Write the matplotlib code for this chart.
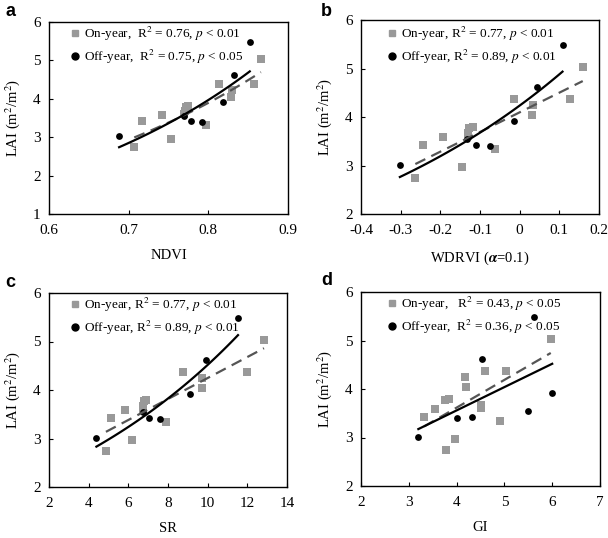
import numpy as np
import matplotlib
matplotlib.use("Agg")
import matplotlib.pyplot as plt
from matplotlib.lines import Line2D

plt.rcParams['font.family'] = ['Liberation Serif', 'DejaVu Serif']
plt.rcParams['mathtext.fontset'] = 'stix'

# ---------------- data ----------------
lai_on = [2.75, 2.96, 3.33, 3.42, 3.58, 3.60, 3.68, 3.78, 3.80, 4.04, 4.24, 4.38, 4.38, 5.04]
lai_off = [3.02, 3.55, 3.42, 3.40, 3.91, 4.61, 5.49]

ndvi_on = [0.707, 0.753, 0.797, 0.717, 0.742, 0.770, 0.771, 0.772, 0.774, 0.829, 0.830, 0.814, 0.857, 0.866]
ndvi_off = [0.688, 0.770, 0.778, 0.792, 0.819, 0.832, 0.852]

wdrvi_on = [-0.263, -0.145, -0.061, -0.244, -0.193, -0.131, -0.130, -0.128, -0.117, 0.031, 0.033, -0.014, 0.126, 0.159]
wdrvi_off = [-0.302, -0.132, -0.111, -0.076, -0.014, 0.043, 0.108]

sr_on = [4.87, 6.17, 7.90, 5.12, 5.83, 6.72, 6.76, 6.80, 6.87, 9.72, 9.72, 8.76, 11.97, 12.84]
sr_off = [4.39, 6.72, 7.04, 7.62, 9.12, 9.93, 11.53]

gi_on = [3.78, 3.97, 4.90, 3.32, 3.55, 4.52, 4.52, 3.75, 3.85, 4.19, 4.18, 4.59, 5.03, 5.97]
gi_off = [3.20, 5.50, 4.33, 4.00, 6.00, 4.53, 5.62]

panel_letters = ['a', 'b', 'c', 'd']
x_labels = ['NDVI', r'WDRVI ($\boldsymbol{\alpha}$=0.1)', 'SR', 'GI']
y_label = r'LAI (m$^2$/m$^2$)'
on_labels = [r'On-year,  R$^2$ = 0.76, $p$ < 0.01',
             r'On-year, R$^2$ = 0.77, $p$ < 0.01',
             r'On-year, R$^2$ = 0.77, $p$ < 0.01',
             r'On-year,   R$^2$ = 0.43, $p$ < 0.05']
off_labels = [r'Off-year,  R$^2$ = 0.75, $p$ < 0.05',
              r'Off-year, R$^2$ = 0.89, $p$ < 0.01',
              r'Off-year, R$^2$ = 0.89, $p$ < 0.01',
              r'Off-year,  R$^2$ = 0.36, $p$ < 0.05']
fit_on = ['exp', 'lin', 'lin', 'lin']
fit_off = ['exp', 'exp', 'exp', 'lin']
x_lims = [(0.6, 0.9), (-0.4, 0.2), (2, 14), (2, 7)]
x_ticks = [[0.6, 0.7, 0.8, 0.9], [-0.4, -0.3, -0.2, -0.1, 0, 0.1, 0.2],
           [2, 4, 6, 8, 10, 12, 14], [2, 3, 4, 5, 6, 7]]
x_ticklabels = [['0.6', '0.7', '0.8', '0.9'], ['-0.4', '-0.3', '-0.2', '-0.1', '0', '0.1', '0.2'],
                ['2', '4', '6', '8', '10', '12', '14'], ['2', '3', '4', '5', '6', '7']]
y_lims = [(1, 6), (2, 6), (2, 6), (2, 6)]

xs_on = [ndvi_on, wdrvi_on, sr_on, gi_on]
xs_off = [ndvi_off, wdrvi_off, sr_off, gi_off]

# ---------------- layout ----------------
W, H = 608, 538
fig = plt.figure(figsize=(W / 100, H / 100), dpi=100)
boxes = [(49, 288, 22, 214), (361, 599, 20, 214), (49, 287, 293, 487), (361, 600, 292, 486)]
legend_anchor = [(76, 33), (393, 33), (76, 304), (393, 303)]
letter_pos = [(5, 3), (321, 3), (5, 274), (321, 272)]

GRAY = '#999999'
DASH = '#555555'


def fit_line(x, y, kind):
    x = np.asarray(x, float)
    y = np.asarray(y, float)
    xx = np.linspace(x.min(), x.max(), 100)
    if kind == 'exp':
        b, a = np.polyfit(x, np.log(y), 1)
        return xx, np.exp(a + b * xx)
    b, a = np.polyfit(x, y, 1)
    return xx, a + b * xx


for i in range(4):
    l, r, t, b = boxes[i]
    ax = fig.add_axes([l / W, 1 - b / H, (r - l) / W, (b - t) / H])
    ax.scatter(xs_on[i], lai_on, marker='s', s=26, color=GRAY, linewidths=0, zorder=3)
    ax.scatter(xs_off[i], lai_off, marker='o', s=24, color='black', linewidths=0, zorder=4)
    fx, fy = fit_line(xs_on[i], lai_on, fit_on[i])
    ax.plot(fx, fy, color=DASH, lw=1.6, dashes=(5, 3), zorder=5)
    fx, fy = fit_line(xs_off[i], lai_off, fit_off[i])
    ax.plot(fx, fy, color='black', lw=1.6, zorder=6)

    ax.set_xlim(*x_lims[i])
    ax.set_ylim(*y_lims[i])
    ax.set_xticks(x_ticks[i])
    ax.set_xticklabels(x_ticklabels[i])
    ax.set_yticks(np.arange(y_lims[i][0], y_lims[i][1] + 1))
    ax.tick_params(direction='in', length=3, width=0.8, labelsize=11)
    ax.tick_params(axis='x', pad=7)
    ax.tick_params(axis='y', pad=6)
    for s in ax.spines.values():
        s.set_linewidth(1.0)
    ax.set_xlabel(x_labels[i], fontsize=10.5, labelpad=9)
    ax.set_ylabel(y_label, fontsize=10.5, labelpad=8)

    handles = [Line2D([], [], ls='none', marker='s', ms=5, mfc=GRAY, mec=GRAY),
               Line2D([], [], ls='none', marker='o', ms=5, mfc='black', mec='black')]
    lx, ly = legend_anchor[i]
    ax.legend(handles, [on_labels[i], off_labels[i]], loc='upper left',
              bbox_to_anchor=((lx - 5 - l) / (r - l), 1 - (ly - 8 - t) / (b - t)),
              frameon=False, fontsize=9.5, handlelength=0.6, handletextpad=0.4,
              borderaxespad=0, borderpad=0, labelspacing=0.35)

    px, py = letter_pos[i]
    fig.text(px / W, 1 - py / H, panel_letters[i], family='Liberation Sans',
             fontweight='bold', fontsize=13, va='top', ha='left')

fig.savefig('out.png', dpi=100)
